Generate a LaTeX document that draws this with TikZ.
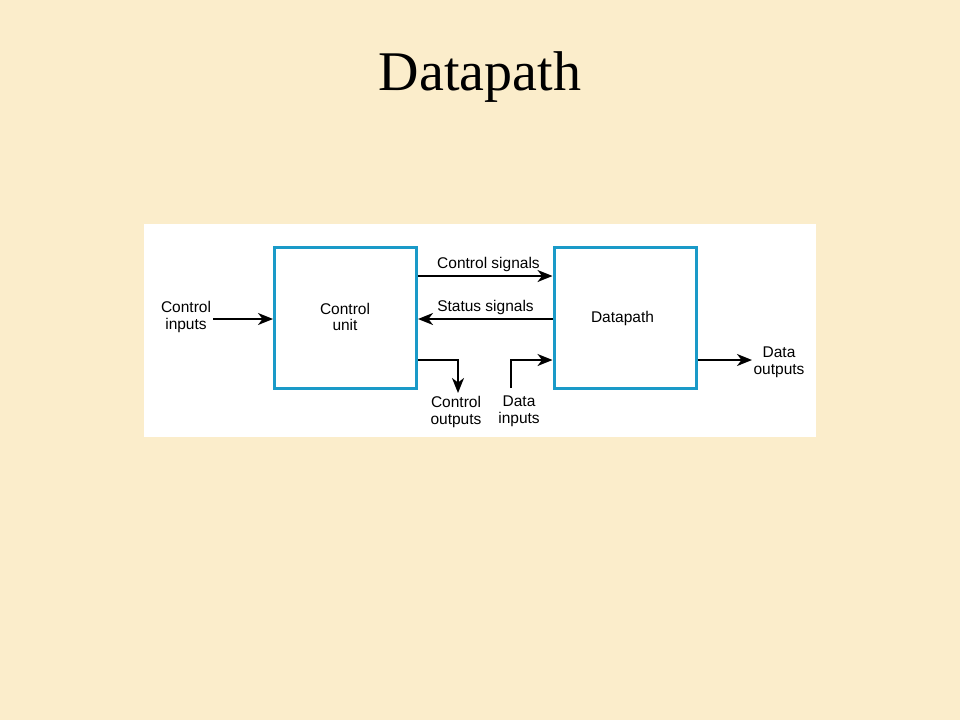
\documentclass[tikz,border=0pt]{standalone}
\usepackage{fontspec}
\setmainfont{Liberation Serif}
\newfontfamily\diagfont{Liberation Sans}
\usetikzlibrary{arrows.meta}
\definecolor{bgbeige}{RGB}{251,237,203}
\definecolor{boxblue}{RGB}{26,154,200}
\tikzset{
  blk/.style={draw=boxblue, line width=3pt, fill=white, minimum width=142pt, minimum height=141pt, inner sep=0pt},
  lbl/.style={font=\diagfont\fontsize{15.5}{16.5}\selectfont, align=center, inner sep=0pt},
  sig/.style={line width=2pt, -{Stealth[length=15pt,width=12pt,inset=4.5pt]}},
}
\begin{document}
\begin{tikzpicture}[x=1pt,y=-1pt]
\useasboundingbox (0,0) rectangle (960,720);
\fill[bgbeige] (0,0) rectangle (960,720);
\fill[white] (144,224) rectangle (816,437);
\node[font=\fontsize{56}{56}\selectfont, anchor=base, inner sep=0pt] (title) at (480,90) {Datapath};

\node[blk] (cu) at (345.5,318) {};
\node[blk] (dp) at (625,318) {};
\node[lbl] (cul) at (345,317) {Control\\unit};
\node[lbl] (dpl) at (622.5,318) {Datapath};

\node[lbl] (ci) at (186,317) {Control\\inputs};
\node[lbl] (cs) at (488.5,264.5) {Control signals};
\node[lbl] (ss) at (485.5,307) {Status signals};
\node[lbl] (co) at (456,412) {Control\\outputs};
\node[lbl] (di) at (519,411.5) {Data\\inputs};
\node[lbl] (do) at (779,362.5) {Data\\outputs};

\coordinate (ciS) at (213,319);
\coordinate (csA) at (418,276);
\coordinate (ssA) at (553,319);
\coordinate (coA) at (418,360);
\coordinate (coB) at (458,360);
\coordinate (coE) at (458,393);
\coordinate (diS) at (511,388);
\coordinate (diB) at (511,360);
\coordinate (doE) at (752,360);

\draw[sig] (ciS) -- (ciS -| cu.west);
\draw[sig] (csA) -- (csA -| dp.west);
\draw[sig] (ssA) -- (ssA -| cu.east);
\draw[sig] (coA) -- (coB) -- (coE);
\draw[sig] (diS) -- (diB) -- (diB -| dp.west);
\draw[sig] (doE -| dp.east) -- (doE);
\end{tikzpicture}
\end{document}
